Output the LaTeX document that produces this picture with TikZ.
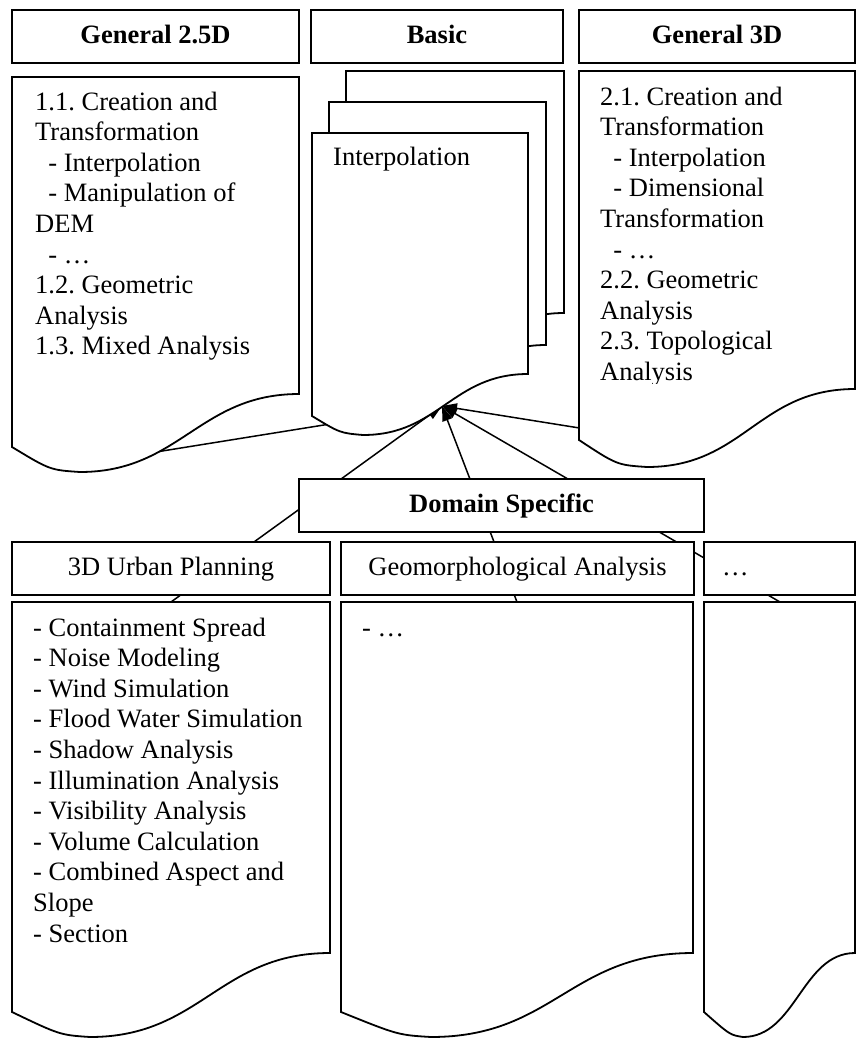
\documentclass[tikz,border=0pt]{standalone}
\usepackage{fontspec}
\setmainfont{Liberation Serif}
\usetikzlibrary{arrows.meta}
\frenchspacing
\newcommand\diafont{\fontsize{26.5}{30.6}\selectfont}
\tikzset{
  box/.style={draw, fill=white, line width=1.8pt, inner sep=0pt, minimum height=53pt,
    text height=18.5pt, text depth=5.5pt},
  head/.style={box, font=\diafont\bfseries},
  doc/.style={draw, fill=white, line width=1.8pt},
  txt/.style={anchor=base west, inner sep=0pt, align=left},
  conn/.style={line width=1.5pt, -{Triangle[length=15pt,width=10pt]}}
}
\begin{document}
\begin{tikzpicture}[x=1pt, y=-1pt, font=\diafont]
\useasboundingbox (0,0) rectangle (856,1039);

\coordinate (tip) at (442,406);
\coordinate (g25 out) at (156,452);
\coordinate (g3d out) at (717,450);
\coordinate (urb in) at (171,602);
\coordinate (geo in) at (517,602);
\coordinate (dots in) at (780,602);

\draw[conn] (g25 out) -- (tip);
\draw[conn] (urb in) -- (tip);
\draw[conn] (geo in) -- (tip);
\draw[conn] (dots in) -- (tip);
\draw[conn] (g3d out) -- (tip);

\draw[doc] (12,77) -- (299,77) -- (299,394) .. controls (199,394) and (180,472) .. (80,472) .. controls (50,470) .. (12,447) -- cycle;
\draw[doc] (579,71) -- (855,71) -- (855,389) .. controls (758,389) and (744,467) .. (647,467) .. controls (617,465) .. (579,440) -- cycle;

\draw[doc] (346,71) -- (564,71) -- (564,313) .. controls (488,313) and (473,374) .. (397,374) .. controls (374,372) .. (346,355) -- cycle;
\draw[doc] (329,102) -- (546,102) -- (546,345) .. controls (470,345) and (456,406) .. (380,406) .. controls (357,404) .. (329,387) -- cycle;
\draw[doc] (312,133) -- (528,133) -- (528,374) .. controls (452,374) and (439,435) .. (363,435) .. controls (340,433) .. (312,416) -- cycle;

\draw[doc] (12,602) -- (330,602) -- (330,953) .. controls (219,953) and (201,1037) .. (90,1037) .. controls (60,1035) .. (12,1012) -- cycle;
\draw[doc] (341,602) -- (693,602) -- (693,953) .. controls (570,953) and (554,1037) .. (431,1037) .. controls (398,1035) .. (341,1012) -- cycle;
\draw[doc] (704,602) -- (855,602) -- (855,953) .. controls (802,953) and (796,1037) .. (743,1037) .. controls (730,1035) .. (704,1012) -- cycle;

\node[head, minimum width=287pt] (g25 head) at (155.5,36.5) {General 2.5D};
\node[head, minimum width=252pt] (basic head) at (437,36.5) {Basic};
\node[head, minimum width=276pt] (g3d head) at (717,36.5) {General 3D};

\node[head, minimum width=405pt] (domain head) at (501.5,505.5) {Domain Specific};

\node[box, minimum width=318pt] (urb head) at (171,568.5) {3D Urban Planning};
\node[box, minimum width=353pt] (geo head) at (517.5,568.5) {Geomorphological Analysis};
\node[box, inner xsep=18pt, text width=115pt, align=left] (dots head) at (779.5,568.5) {…};

\node[txt] (g25 text) at (35,354.8) {1.1. Creation and\\Transformation\\\hspace*{0.5em}- Interpolation\\\hspace*{0.5em}- Manipulation of\\DEM\\\hspace*{0.5em}- …\\1.2. Geometric\\Analysis\\1.3. Mixed Analysis};

\node[txt] (basic text) at (333,165) {Interpolation};

\begin{scope}
  \clip (579,71) rectangle (855,383);
  \node[txt] (g3d text) at (600,380.4) {2.1. Creation and\\Transformation\\\hspace*{0.5em}- Interpolation\\\hspace*{0.5em}- Dimensional\\Transformation\\\hspace*{0.5em}- …\\2.2. Geometric\\Analysis\\2.3. Topological\\Analysis};
\end{scope}

\node[txt] (urb text) at (33,942) {- Containment Spread\\- Noise Modeling\\- Wind Simulation\\- Flood Water Simulation\\- Shadow Analysis\\- Illumination Analysis\\- Visibility Analysis\\- Volume Calculation\\- Combined Aspect and\\Slope\\- Section};

\node[txt] (geo text) at (362,636) {- …};
\end{tikzpicture}
\end{document}
